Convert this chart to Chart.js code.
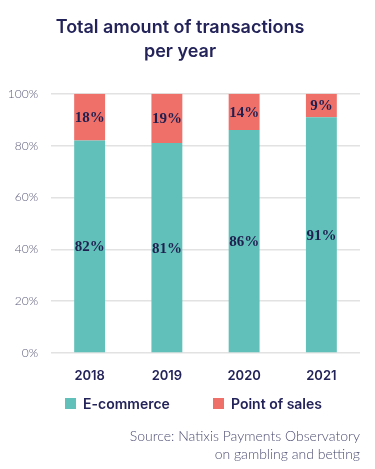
<!DOCTYPE html>
<html><head><meta charset="utf-8">
<script src="https://cdn.jsdelivr.net/npm/chart.js@4/dist/chart.umd.min.js"></script>
<style>
html,body{margin:0;padding:0;background:#fff;}
#wrap{position:relative;width:375px;height:469px;}
#legend{position:absolute;left:0;top:393px;width:375px;height:20px;font:600 14px Inter, "Open Sans", sans-serif;color:#23235a;}
.item{position:absolute;top:0;display:flex;align-items:center;height:20px;white-space:nowrap;}
.sw{width:11px;height:11px;margin-right:7px;}
</style></head>
<body><div id="wrap"><canvas id="c" width="375" height="469" style="width:375px;height:469px"></canvas><div id="legend"></div></div>
<script>
const years = ['2018', '2019', '2020', '2021'];
const ecommerce = [82, 81, 86, 91];
const pointOfSales = [18, 19, 14, 9];
const seriesNames = ['E-commerce', 'Point of sales'];
const seriesColors = ['#61c0b9', '#ef6f69'];
const titleLines = ['Total amount of transactions', 'per year'];
const sourceLines = ['Source: Natixis Payments Observatory', 'on gambling and betting'];

const navy = '#23235a';

const barLabels = {
  id: 'barLabels',
  afterDatasetsDraw(chart) {
    const ctx = chart.ctx;
    chart.data.datasets.forEach((ds, i) => {
      const meta = chart.getDatasetMeta(i);
      meta.data.forEach((bar, j) => {
        const p = bar.getProps(['x', 'y', 'base'], true);
        ctx.save();
        ctx.font = 'bold 15px "Liberation Serif", "DejaVu Serif", serif';
        ctx.fillStyle = '#1f1f50';
        ctx.textAlign = 'center';
        ctx.textBaseline = 'middle';
        ctx.fillText(ds.data[j] + '%', p.x, (p.y + p.base) / 2 + 1);
        ctx.restore();
      });
    });
  }
};

const chart = new Chart(document.getElementById('c'), {
  type: 'bar',
  data: {
    labels: years,
    datasets: [
      { label: seriesNames[0], data: ecommerce, backgroundColor: seriesColors[0], categoryPercentage: 0.8, barPercentage: 0.5 },
      { label: seriesNames[1], data: pointOfSales, backgroundColor: seriesColors[1], categoryPercentage: 0.8, barPercentage: 0.5 }
    ]
  },
  options: {
    responsive: false,
    devicePixelRatio: 1,
    animation: false,
    layout: { padding: { left: 0, right: 15, top: 0, bottom: 0 } },
    plugins: {
      legend: { display: false },
      tooltip: { enabled: false },
      title: {
        display: true,
        text: titleLines,
        color: navy,
        font: { family: 'Inter', size: 18, weight: '600', lineHeight: 1.3 },
        padding: { top: 16, bottom: 31 }
      },
      subtitle: {
        display: true,
        position: 'bottom',
        align: 'end',
        text: sourceLines,
        color: '#4e4e74',
        font: { family: 'Lato', size: 14, weight: '300', lineHeight: 1.3 },
        padding: { top: 37, bottom: 5 }
      }
    },
    scales: {
      x: {
        stacked: true,
        grid: { display: false },
        border: { display: false },
        ticks: { color: navy, padding: 7, font: { family: 'Inter', size: 13, weight: '600' } }
      },
      y: {
        stacked: true,
        min: 0,
        max: 100,
        afterFit(scale) { scale.width = 51; },
        grid: { color: '#e2e2e2', lineWidth: 1.5, drawTicks: false },
        border: { display: false },
        ticks: {
          stepSize: 20,
          padding: 13,
          color: '#5b5b7b',
          font: { family: 'Lato', size: 12, weight: '300' },
          callback: v => v + '%'
        }
      }
    }
  },
  plugins: [barLabels]
});

// HTML legend built from the datasets
const legendPos = [65, 213];
const legendEl = document.getElementById('legend');
chart.data.datasets.forEach((ds, i) => {
  const item = document.createElement('div');
  item.className = 'item';
  item.style.left = legendPos[i] + 'px';
  const sw = document.createElement('span');
  sw.className = 'sw';
  sw.style.background = ds.backgroundColor;
  const tx = document.createElement('span');
  tx.textContent = ds.label;
  item.appendChild(sw);
  item.appendChild(tx);
  legendEl.appendChild(item);
});
</script>
</body></html>
